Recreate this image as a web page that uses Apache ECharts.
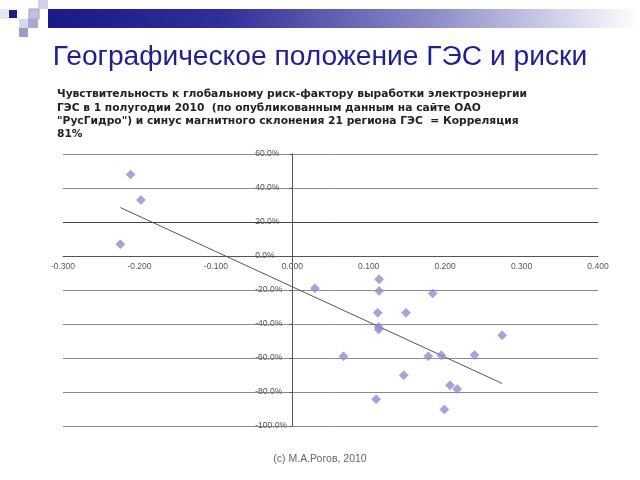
<!DOCTYPE html>
<html>
<head>
<meta charset="utf-8">
<script src="https://cdn.jsdelivr.net/npm/echarts@6/dist/echarts.min.js"></script>
<style>
html,body{margin:0;padding:0;background:#fff;}
#c{width:640px;height:480px;}
</style>
</head>
<body>
<div id="c"></div>
<script>
// sine of magnetic declination (x) vs. sensitivity (y, %)
var xVals = [-0.2115, -0.198, -0.225, 0.0296, 0.1136, 0.1136, 0.1837, 0.1118, 0.1488, 0.113, 0.113,
             0.2746, 0.067, 0.178, 0.195, 0.2385, 0.1458, 0.2063, 0.2158, 0.1097, 0.199];
var yVals = [48, 32.9, 6.9, -19, -13.7, -20.6, -22, -33.4, -33.4, -41.7, -43.3,
             -46.6, -59, -59, -58.4, -58.2, -70.2, -76.1, -78.3, -84.2, -90.3];
var titleText = "Географическое положение ГЭС и риски";
var subtitleLines = [
  "Чувствительность к глобальному риск-фактору выработки электроэнергии",
  "ГЭС в 1 полугодии 2010  (по опубликованным данным на сайте ОАО",
  "\"РусГидро\") и синус магнитного склонения 21 региона ГЭС  = Корреляция",
  "81%"
];
var footerText = "(c) М.А.Рогов, 2010";
var X_MIN = -0.3, X_MAX = 0.4, X_STEP = 0.1;
var Y_MIN = -100, Y_MAX = 60, Y_STEP = 20;
var darkGridValue = 20;

var points = xVals.map(function (x, i) { return [x, yVals[i]]; });

// least-squares trend line
var n = xVals.length, sx = 0, sy = 0, sxx = 0, sxy = 0;
for (var i = 0; i < n; i++) { sx += xVals[i]; sy += yVals[i]; sxx += xVals[i]*xVals[i]; sxy += xVals[i]*yVals[i]; }
var slope = (n*sxy - sx*sy) / (n*sxx - sx*sx);
var icpt = (sy - slope*sx) / n;
var xMin = Math.min.apply(null, xVals), xMax = Math.max.apply(null, xVals);
var trend = [[xMin, icpt + slope*xMin], [xMax, icpt + slope*xMax]];

var G = {left: 63, right: 42, top: 154, bottom: 54};
var gw = 640 - G.left - G.right, gh = 480 - G.top - G.bottom;
// move axes to cross at zero
var yOffset = -gw * (0 - X_MIN) / (X_MAX - X_MIN);
var xOffset = -gh * (0 - Y_MIN) / (Y_MAX - Y_MIN);

var chart = echarts.init(document.getElementById('c'), null, {renderer: 'canvas'});
var fam = '"Liberation Sans", Arial, sans-serif';
var graphics = [
  {type: 'rect', shape: {x: 48, y: 9, width: 592, height: 19},
   style: {fill: new echarts.graphic.LinearGradient(0, 0, 1, 0, [
     {offset: 0, color: '#1a1a88'}, {offset: 0.3, color: '#30309a'},
     {offset: 0.65, color: '#8c8cc8'}, {offset: 1, color: '#ffffff'}])}},
  {type: 'rect', shape: {x: 0, y: 9, width: 8, height: 10}, style: {fill: '#e6e6f2'}},
  {type: 'rect', shape: {x: 9, y: 10, width: 8, height: 8}, style: {fill: '#1c1c8c'}},
  {type: 'rect', shape: {x: 38, y: 0, width: 10, height: 9}, style: {fill: '#d0d0e8'}},
  {type: 'rect', shape: {x: 29, y: 9, width: 10, height: 10}, style: {fill: '#c0c0e0', stroke: '#a0a0cc', lineWidth: 1}},
  {type: 'rect', shape: {x: 19, y: 19, width: 9, height: 9}, style: {fill: '#d8d8ec'}},
  {type: 'rect', shape: {x: 28, y: 19, width: 10, height: 9}, style: {fill: '#a8a8d4'}},
  {type: 'rect', shape: {x: 19, y: 28, width: 9, height: 9}, style: {fill: '#9c9cc4'}},
  {type: 'text', left: 'center', top: 43,
   style: {text: titleText, fill: '#1e1e9a', font: '28.2px ' + fam}}
];
subtitleLines.forEach(function (t, k) {
  graphics.push({type: 'text', left: 57, top: 89 + k*13.3,
    style: {text: t, fill: '#222', font: 'bold 10.7px "DejaVu Sans", sans-serif'}});
});
graphics.push({type: 'text', left: 'center', top: 454,
  style: {text: footerText, fill: '#666', font: '10.5px ' + fam}});

chart.setOption({
  animation: false,
  backgroundColor: '#fff',
  graphic: graphics,
  grid: {left: G.left, right: G.right, top: G.top, bottom: G.bottom, containLabel: false},
  xAxis: {
    type: 'value', min: X_MIN, max: X_MAX, interval: X_STEP,
    offset: xOffset,
    axisLine: {onZero: false, lineStyle: {color: '#555', width: 1}},
    axisTick: {show: false},
    splitLine: {show: false},
    axisLabel: {color: '#555', fontSize: 8.5, fontFamily: fam, margin: 6,
      formatter: function (v) { return v.toFixed(3); }}
  },
  yAxis: {
    type: 'value', min: Y_MIN, max: Y_MAX, interval: Y_STEP,
    offset: yOffset,
    axisLine: {onZero: false, lineStyle: {color: '#555', width: 1}},
    axisTick: {show: true, length: 3, lineStyle: {color: '#555'}},
    splitLine: {show: true, lineStyle: {color: '#8a8a8a', width: 1}},
    axisLabel: {color: '#555', fontSize: 8.5, fontFamily: fam, margin: 37, align: 'left',
      formatter: function (v) { return v.toFixed(1) + '%'; }}
  },
  series: [
    {type: 'line', data: trend, symbol: 'none', z: 3,
     lineStyle: {color: '#555', width: 1},
     markLine: {silent: true, symbol: 'none', label: {show: false},
       lineStyle: {color: '#444', width: 1, type: 'solid'},
       data: [{yAxis: darkGridValue}]}},
    {type: 'scatter', data: points, symbol: 'diamond', symbolSize: 9, z: 4,
     itemStyle: {color: '#8f8fd4', borderColor: '#7a7ac4', borderWidth: 0.5}}
  ]
});
</script>
</body>
</html>
